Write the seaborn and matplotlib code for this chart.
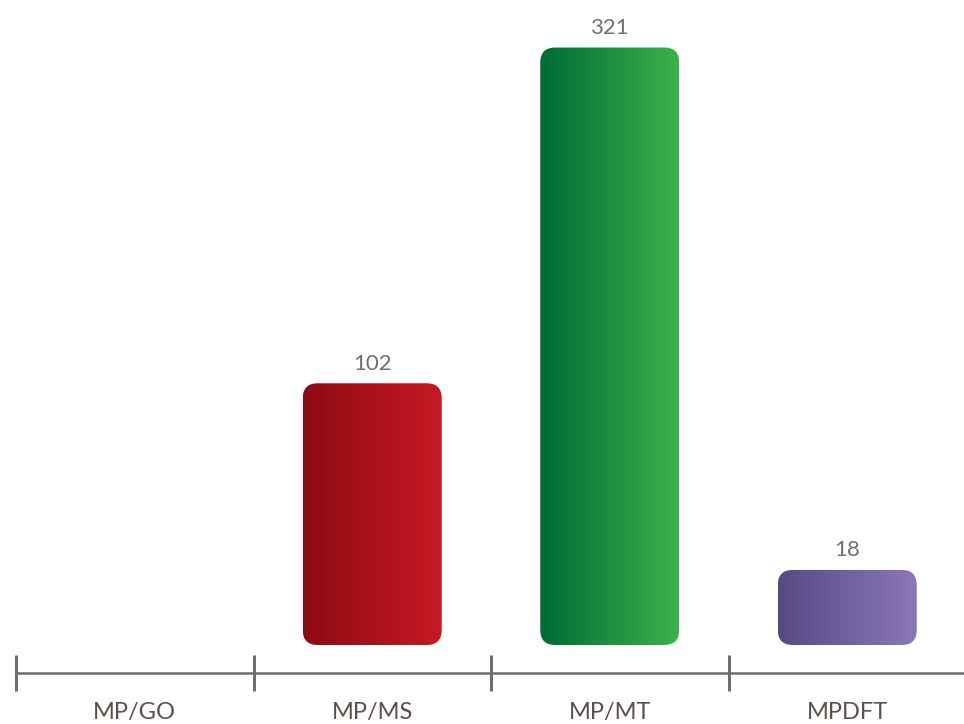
import numpy as np
import pandas as pd
import matplotlib
matplotlib.use("Agg")
import matplotlib.pyplot as plt
import seaborn as sns
from matplotlib.patches import FancyBboxPatch
from matplotlib.colors import LinearSegmentedColormap

# Data
categories = ["MP/GO", "MP/MS", "MP/MT", "MPDFT"]
values = [0, 102, 321, 18]
grad_left = ["#8e0a12", "#8e0a12", "#006b36", "#564a85"]
grad_right = ["#c71925", "#c71925", "#3bb34a", "#8b79b7"]

sns.set_style("white")
plt.rcParams["font.family"] = ["Lato", "DejaVu Sans"]

axis_grey = "#6e6e6e"
label_col = "#5b504c"
value_col = "#707070"

# bars are not drawn to a linear scale in the original, use a power scale
p = 0.72
def fwd(x):
    x = np.asarray(x, dtype=float)
    return np.sign(x) * np.abs(x) ** p
def inv(x):
    x = np.asarray(x, dtype=float)
    return np.sign(x) * np.abs(x) ** (1 / p)

fig = plt.figure(figsize=(9.64, 7.24), dpi=100)
ax = fig.add_axes([16 / 964, 79 / 724, 950 / 964, 645 / 724])

df = pd.DataFrame({"category": categories, "count": values})
sns.barplot(data=df, x="category", y="count", width=0.585, color="#cccccc", ax=ax)

ax.set_yscale("function", functions=(fwd, inv))
ax.set_xlim(-0.5, 3.5)
ax.set_ylim(0, 357)

# rounded gradient bars
W, H = 950, 645
radius = 15
to_axes = ax.transData + ax.transAxes.inverted()
for i, patch in enumerate(ax.patches):
    patch.set_visible(False)
    h = patch.get_height()
    if h <= 0:
        continue
    x0 = patch.get_x()
    w = patch.get_width()
    (ax0, ay0), (ax1, ay1) = to_axes.transform([(x0, 0), (x0 + w, h)])
    box = FancyBboxPatch((ax0, ay0), ax1 - ax0, ay1 - ay0,
                         boxstyle=f"round,pad=0,rounding_size={radius / W}",
                         mutation_aspect=W / H, transform=ax.transAxes,
                         facecolor="none", edgecolor="none", lw=0)
    ax.add_patch(box)
    cmap = LinearSegmentedColormap.from_list(f"g{i}", [grad_left[i], grad_right[i]])
    grad = np.linspace(0, 1, 256).reshape(1, -1)
    im = ax.imshow(grad, cmap=cmap, aspect="auto", extent=(ax0, ax1, ay0, ay1),
                   transform=ax.transAxes, interpolation="bicubic")
    im.set_clip_path(box)

ax.set_xlim(-0.5, 3.5)
ax.set_ylim(0, 357)

# value labels
for i, v in enumerate(values):
    if v > 0:
        ax.annotate(f"{v}", (i, v), xytext=(0, 7), textcoords="offset points",
                    ha="center", va="bottom", fontsize=16, color=value_col)

# axis styling
for s in ["left", "top", "right"]:
    ax.spines[s].set_visible(False)
ax.spines["bottom"].set_position(("outward", 20))
ax.spines["bottom"].set_color(axis_grey)
ax.spines["bottom"].set_linewidth(1.8)

ax.set_yticks([])
ax.set_xticks([-0.5, 0.5, 1.5, 2.5, 3.5])
ax.set_xticklabels([])
ax.set_xticks([0, 1, 2, 3], minor=True)
ax.set_xticklabels(categories, minor=True)
ax.tick_params(axis="x", which="major", bottom=True, direction="inout",
               length=26.6, width=2.2, color=axis_grey)
ax.tick_params(axis="x", which="minor", bottom=True, length=0, pad=21,
               labelsize=17, labelcolor=label_col)
ax.set_xlabel("")
ax.set_ylabel("")

fig.savefig("out.png", dpi=100)
